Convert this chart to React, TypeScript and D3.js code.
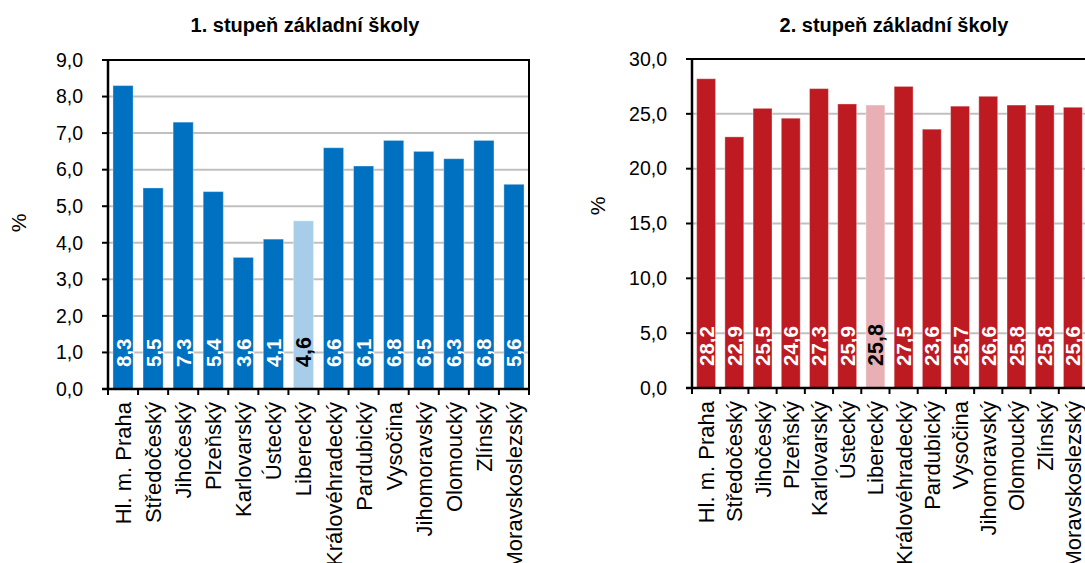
import React from "react";
import * as d3 from "d3";

// regions (kraje)
const regions = [
  "Hl. m. Praha",
  "Středočeský",
  "Jihočeský",
  "Plzeňský",
  "Karlovarský",
  "Ústecký",
  "Liberecký",
  "Královéhradecký",
  "Pardubický",
  "Vysočina",
  "Jihomoravský",
  "Olomoucký",
  "Zlínský",
  "Moravskoslezský",
];

const primaryValues = [8.3, 5.5, 7.3, 5.4, 3.6, 4.1, 4.6, 6.6, 6.1, 6.8, 6.5, 6.3, 6.8, 5.6];
const lowerSecondaryValues = [28.2, 22.9, 25.5, 24.6, 27.3, 25.9, 25.8, 27.5, 23.6, 25.7, 26.6, 25.8, 25.8, 25.6];

const primaryTicks = [0, 1, 2, 3, 4, 5, 6, 7, 8, 9];
const secondaryTicks = [0, 5, 10, 15, 20, 25, 30];

const highlighted = "Liberecký";
const FONT = "'Liberation Sans', Arial, sans-serif";

const fmt = (v: number) => v.toFixed(1).replace(".", ",");

type PanelProps = {
  title: string;
  titleX: number;
  values: number[];
  ticks: number[];
  x0: number;
  x1: number;
  y0: number;
  y1: number;
  color: string;
  lightColor: string;
  pctX: number;
  pctY: number;
};

const Panel = ({ title, titleX, values, ticks, x0, x1, y0, y1, color, lightColor, pctX, pctY }: PanelProps) => {
  const x = d3.scaleBand<string>().domain(regions).range([x0, x1]).paddingInner(0.33).paddingOuter(0.165);
  const y = d3.scaleLinear().domain([0, d3.max(ticks) as number]).range([y1, y0]);
  const step = x.step();

  return (
    <g fontFamily={FONT}>
      <text x={titleX} y={32} textAnchor="middle" fontWeight="bold" fontSize={20} fill="#000">
        {title}
      </text>
      {/* gridlines */}
      {ticks.slice(1, -1).map((t) => (
        <line key={"g" + t} x1={x0} x2={x1} y1={y(t)} y2={y(t)} stroke="#c0c0c0" strokeWidth={2} />
      ))}
      {/* bars */}
      {regions.map((r, i) => (
        <rect
          key={r}
          x={x(r)}
          y={y(values[i])}
          width={x.bandwidth()}
          height={y(0) - y(values[i])}
          fill={r === highlighted ? lightColor : color}
          stroke="#ffffff"
          strokeOpacity={0.35}
          strokeWidth={1}
        />
      ))}
      {/* frame */}
      <path d={`M${x0},${y0}H${x1}V${y1}`} fill="none" stroke="#000" strokeWidth={2} />
      <line x1={x0} x2={x0} y1={y0 - 1} y2={y1 + 1} stroke="#000" strokeWidth={2.5} />
      <line x1={x0 - 6} x2={x1 + 1} y1={y1} y2={y1} stroke="#000" strokeWidth={2.5} />
      {/* y ticks */}
      {ticks.map((t) => (
        <g key={"t" + t}>
          <line x1={x0 - 6} x2={x0} y1={y(t)} y2={y(t)} stroke="#000" strokeWidth={2} />
          <text x={x0 - 25} y={y(t)} dy="0.35em" textAnchor="end" fontSize={19.5} fill="#000">
            {fmt(t)}
          </text>
        </g>
      ))}
      {/* x ticks */}
      {d3.range(regions.length + 1).map((k) => (
        <line key={"x" + k} x1={x0 + k * step} x2={x0 + k * step} y1={y1} y2={y1 + 6} stroke="#000" strokeWidth={2} />
      ))}
      {/* category labels */}
      {regions.map((r) => {
        const cx = (x(r) as number) + x.bandwidth() / 2;
        return (
          <text
            key={"c" + r}
            transform={`translate(${cx + 8},${y1 + 13}) rotate(-90)`}
            textAnchor="end"
            fontSize={22}
            fill="#000"
          >
            {r}
          </text>
        );
      })}
      {/* value labels */}
      {regions.map((r, i) => {
        const cx = (x(r) as number) + x.bandwidth() / 2;
        const hl = r === highlighted;
        return (
          <text
            key={"v" + r}
            transform={`translate(${cx + (hl ? 8 : 7.5)},${y1 - 22}) rotate(-90)`}
            textAnchor="start"
            fontWeight="bold"
            fontSize={hl ? 21.5 : 20.5}
            fill={hl ? "#000" : "#fff"}
          >
            {fmt(values[i])}
          </text>
        );
      })}
      <text transform={`translate(${pctX},${pctY}) rotate(-90)`} textAnchor="middle" fontSize={21} fill="#000">
        %
      </text>
    </g>
  );
};

const App = () => {
  return (
    <svg
      width={1085}
      height={563}
      style={{ position: "absolute", left: 0, top: 0, background: "#fff" }}
    >
      <rect width={1085} height={563} fill="#fff" />
      <Panel
        title="1. stupeň základní školy"
        titleX={305}
        values={primaryValues}
        ticks={primaryTicks}
        x0={108}
        x1={529}
        y0={60}
        y1={389}
        color="#0070c0"
        lightColor="#a8cde8"
        pctX={26}
        pctY={223}
      />
      <Panel
        title="2. stupeň základní školy"
        titleX={894}
        values={lowerSecondaryValues}
        ticks={secondaryTicks}
        x0={692}
        x1={1087}
        y0={59}
        y1={388}
        color="#be1a22"
        lightColor="#e8b0b4"
        pctX={605}
        pctY={206}
      />
    </svg>
  );
};

export default App;
